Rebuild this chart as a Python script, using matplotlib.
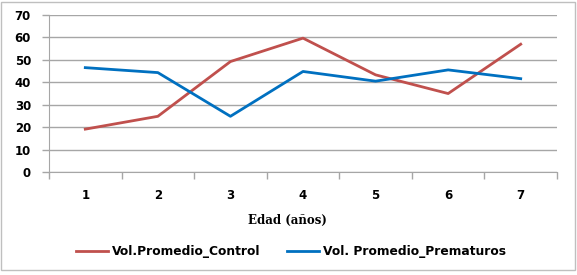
import matplotlib
matplotlib.use("Agg")
import matplotlib.pyplot as plt
from matplotlib.patches import Rectangle

# datos
edad = [1, 2, 3, 4, 5, 6, 7]
vol_control = [19.2, 24.9, 49.2, 59.6, 43.3, 35.0, 56.9]
vol_prematuros = [46.5, 44.3, 24.9, 44.8, 40.5, 45.5, 41.6]
y_ticks = [0, 10, 20, 30, 40, 50, 60, 70]

rojo = '#C0504D'
azul = '#0070C0'
gris = '#A6A6A6'

fig = plt.figure(figsize=(5.77, 2.75), dpi=100)
ax = fig.add_axes([49/577, 1 - 172.4/275, 508/577, (172.4 - 14.7)/275])

ax.plot(edad, vol_control, color=rojo, linewidth=2.0, label='Vol.Promedio_Control')
ax.plot(edad, vol_prematuros, color=azul, linewidth=2.0, label='Vol. Promedio_Prematuros')

ax.set_xlim(0.5, 7.5)
ax.set_ylim(0, 70)
ax.set_yticks(y_ticks)
ax.set_xticks(edad)
ax.set_xticks([x + 0.5 for x in [0] + edad], minor=True)
ax.tick_params(axis='x', which='major', length=0, pad=12)
ax.tick_params(axis='x', which='minor', length=5, width=1, color=gris, direction='out')
ax.tick_params(axis='y', length=5, width=1, color=gris, direction='out', pad=8)
for lab in ax.get_xticklabels() + ax.get_yticklabels():
    lab.set_fontweight('bold')
    lab.set_fontsize(8.5)
    lab.set_fontfamily('DejaVu Sans')

ax.grid(axis='y', color=gris, linewidth=1)
ax.set_axisbelow(True)
for s in ['top', 'right']:
    ax.spines[s].set_visible(False)
ax.spines['left'].set_color(gris)
ax.spines['bottom'].set_color(gris)

fig.text(287/577, 1 - 220/275, 'Edad (años)', ha='center', va='center',
         fontsize=8.5, fontweight='bold', family='DejaVu Serif')

fig.legend(loc='center', bbox_to_anchor=(291/577, 1 - 252/275), ncol=2,
           frameon=False, prop={'weight': 'bold', 'size': 8.8},
           handlelength=2.6, handletextpad=0.3, columnspacing=2.2)

fig.patches.append(Rectangle((1/577, 1 - 270/275), 574/577, 268/275,
                             transform=fig.transFigure, fill=False,
                             edgecolor='#BFBFBF', linewidth=1))

fig.savefig('out.png', dpi=100)
